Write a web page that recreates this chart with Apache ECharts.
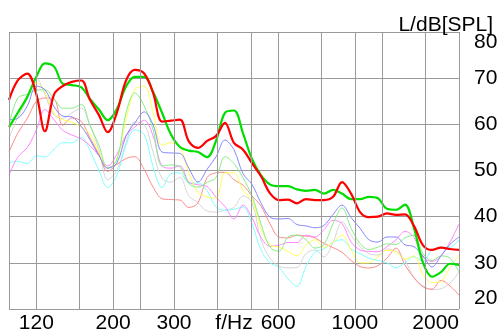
<!DOCTYPE html>
<html>
<head>
<meta charset="utf-8">
<script src="https://cdn.jsdelivr.net/npm/echarts@6/dist/echarts.min.js"></script>
<style>html,body{margin:0;padding:0;background:#fff;}#c{width:498px;height:334px;}</style>
</head>
<body>
<div id="c"></div>
<script>
// Frequencies (Hz) shared by all curves
const freqs = [100,106,113,120,127,135,143,152,162,171,182,193,205,218,231,246,261,277,294,312,331,352,374,397,421,447,475,504,535,568,603,641,680,722,767,814,865,918,975,1035,1098,1166,1238,1315,1396,1482,1574,1671,1774,1884,2000];

// Levels in dB[SPL]
const redLevels = [65.3,69.5,71.0,66.5,58.5,66.5,68.3,69.2,69.5,65.5,62.0,58.3,62.5,69.5,71.8,71.0,66.8,60.6,60.8,61.0,56.3,54.9,56.4,57.5,60.3,56.0,54.5,51.6,48.8,45.1,43.6,43.7,42.9,43.8,43.6,43.6,44.3,47.5,45.0,41.0,39.9,40.0,40.7,40.4,40.5,38.0,33.8,32.8,33.3,33.0,32.8];
const greenLevels = [59.4,62.5,66.0,70.3,73.2,72.5,68.8,68.5,68.0,65.6,63.2,60.9,63.3,68.2,70.3,70.3,67.0,62.5,57.8,55.1,54.3,54.0,52.9,56.5,62.5,63.0,58.0,52.5,49.0,47.0,46.6,46.6,45.9,45.6,45.8,45.0,45.8,45.0,43.8,43.8,44.3,44.0,41.7,41.5,42.6,37.5,30.0,27.0,28.0,29.8,29.5];
const blueLevels = [61.0,61.3,64.0,68.3,67.5,63.8,61.8,61.6,59.5,56.8,53.2,50.5,51.6,57.5,60.3,62.7,59.9,54.0,53.8,53.7,50.5,47.5,50.3,53.0,56.6,54.5,49.3,47.0,43.0,39.9,39.5,39.6,38.3,38.0,37.6,38.1,40.5,42.5,39.8,37.5,35.0,34.5,35.6,35.6,33.9,33.5,31.5,29.1,31.5,34.0,35.6];
const lightGreenLevels = [59.8,65.7,66.5,67.4,67.5,65.5,63.5,63.5,64.3,60.0,55.5,50.5,52.3,62.5,66.8,64.0,58.8,51.0,51.2,50.8,47.2,46.4,47.4,48.5,53.0,51.5,48.4,44.5,38.5,33.4,32.5,35.6,36.0,35.0,33.2,34.0,38.5,41.9,37.5,34.2,32.9,33.4,34.1,34.0,35.4,36.0,32.0,30.5,31.5,31.0,28.0];
const yellowLevels = [58.8,62.5,66.0,69.0,67.0,62.5,61.0,60.5,59.4,58.0,54.0,50.5,52.5,61.0,67.5,68.3,62.5,55.5,56.0,55.1,49.5,45.3,44.3,44.0,49.5,49.5,45.6,43.6,37.5,33.9,33.4,32.5,31.5,33.8,35.0,33.4,34.5,36.0,32.8,30.0,30.0,31.3,32.7,32.4,30.8,31.5,27.5,25.7,26.0,29.0,31.7];
const pinkLevels = [49.0,52.9,55.0,58.8,63.2,61.0,58.7,57.7,56.8,55.5,53.2,51.0,53.5,57.6,59.4,60.9,57.5,51.0,50.5,51.0,47.5,46.9,46.5,44.2,42.2,39.5,42.5,39.8,35.5,33.6,33.8,34.4,34.4,36.0,35.6,37.2,39.2,38.5,34.5,32.8,32.5,32.4,33.5,35.0,36.8,35.5,31.2,30.3,31.5,34.5,38.4];
const cyanLevels = [51.6,52.0,51.5,53.2,52.9,54.6,56.0,56.0,57.2,54.5,50.0,46.3,49.0,55.5,58.8,57.8,50.8,46.3,49.3,49.5,47.3,47.3,45.6,42.0,41.4,41.6,42.1,38.5,32.8,30.0,29.0,26.5,24.9,29.2,32.3,33.0,34.5,35.0,33.0,32.0,31.0,30.5,30.0,28.9,30.0,31.3,30.3,32.8,33.4,33.4,35.0];
const salmonLevels = [54.0,58.1,61.3,65.0,65.7,65.5,59.8,61.4,60.6,57.2,53.5,49.8,51.3,52.6,53.0,50.2,46.4,43.9,43.7,43.6,42.0,43.0,48.5,49.5,49.6,48.0,46.8,44.5,42.3,38.5,35.6,35.4,36.0,35.8,35.4,34.2,33.3,32.3,30.5,29.2,28.9,29.4,31.0,33.2,29.5,26.8,24.8,24.3,26.2,25.0,23.0];
const grayLevels = [57.0,61.5,65.5,70.0,66.5,62.0,61.3,62.5,63.5,60.0,54.5,48.0,50.0,56.0,60.5,60.0,54.0,48.3,47.5,48.5,44.5,43.0,41.2,41.0,41.4,42.0,44.5,43.0,35.0,31.0,29.3,28.9,29.0,32.0,32.8,31.3,34.5,38.9,36.0,33.5,32.0,31.7,33.0,32.5,30.5,26.7,25.0,24.2,24.4,25.6,28.0];

// Axis ticks / grid
const xTickLabels = [120,200,300,600,1000,2000];
const xGridFreqs = [100,120,160,200,240,300,400,500,600,800,1000,1200,1600,2000];
const yMin = 20, yMax = 80, yStep = 10;

const FONT = "'Liberation Sans', Arial, sans-serif";

function pairs(levels){ return freqs.map((f,i)=>[f, levels[i]]); }

const thin = [
  {name:'gray', data: grayLevels, color:'#d6d6d6'},
  {name:'salmon', data: salmonLevels, color:'#ff8a8a'},
  {name:'cyan', data: cyanLevels, color:'#80ffff'},
  {name:'pink', data: pinkLevels, color:'#ff88ff'},
  {name:'yellow', data: yellowLevels, color:'#ffff55'},
  {name:'lightgreen', data: lightGreenLevels, color:'#88ee88'},
  {name:'blue', data: blueLevels, color:'#8888ff'}
];

const series = thin.map((s, idx) => ({
  type:'line', name:s.name, data:pairs(s.data), showSymbol:false, smooth:0.35,
  lineStyle:{color:s.color, width:1}, itemStyle:{color:s.color}, animation:false,
  markLine: idx === 0 ? {
    silent:true, symbol:['none','none'], label:{show:false}, animation:false,
    lineStyle:{color:'#9a9a9a', width:1, type:'solid'},
    data: xGridFreqs.map(f => ({xAxis:f}))
  } : undefined
}));
series.push({type:'line', name:'green', data:pairs(greenLevels), showSymbol:false, smooth:0.35,
  lineStyle:{color:'#00dd00', width:2.2}, animation:false});
series.push({type:'line', name:'red', data:pairs(redLevels), showSymbol:false, smooth:0.35,
  lineStyle:{color:'#ff0000', width:2.2}, animation:false});

const chart = echarts.init(document.getElementById('c'), null, {renderer:'canvas'});
chart.setOption({
  backgroundColor:'#fff',
  animation:false,
  title:{text:'L/dB[SPL]', right:0, top:10, textStyle:{fontSize:21, fontWeight:'normal', color:'#000', fontFamily:FONT}},
  grid:{left:9, right:39, top:32, bottom:25, containLabel:false, outerBoundsMode:'none'},
  xAxis:{type:'log', logBase:10, min:100, max:2000,
    axisLine:{show:false}, axisTick:{show:false}, splitLine:{show:false}, minorSplitLine:{show:false},
    axisLabel:{customValues:xTickLabels, formatter:v=>String(Math.round(v)), fontSize:21, color:'#000', fontFamily:FONT, margin:4, alignMaxLabel:'right'},
    name:'f/Hz', nameLocation:'middle', nameGap:4, nameMoveOverlap:false,
    nameTextStyle:{fontSize:21, color:'#000', fontFamily:FONT, verticalAlign:'top'}
  },
  yAxis:{type:'value', position:'right', min:yMin, max:yMax, interval:yStep,
    axisLine:{show:false}, axisTick:{show:false},
    splitLine:{show:true, lineStyle:{color:'#9a9a9a', width:1}},
    axisLabel:{fontSize:21, color:'#000', fontFamily:FONT, margin:15, verticalAlignMaxLabel:'top', verticalAlignMinLabel:'bottom'}
  },
  series: series
});
</script>
</body>
</html>
